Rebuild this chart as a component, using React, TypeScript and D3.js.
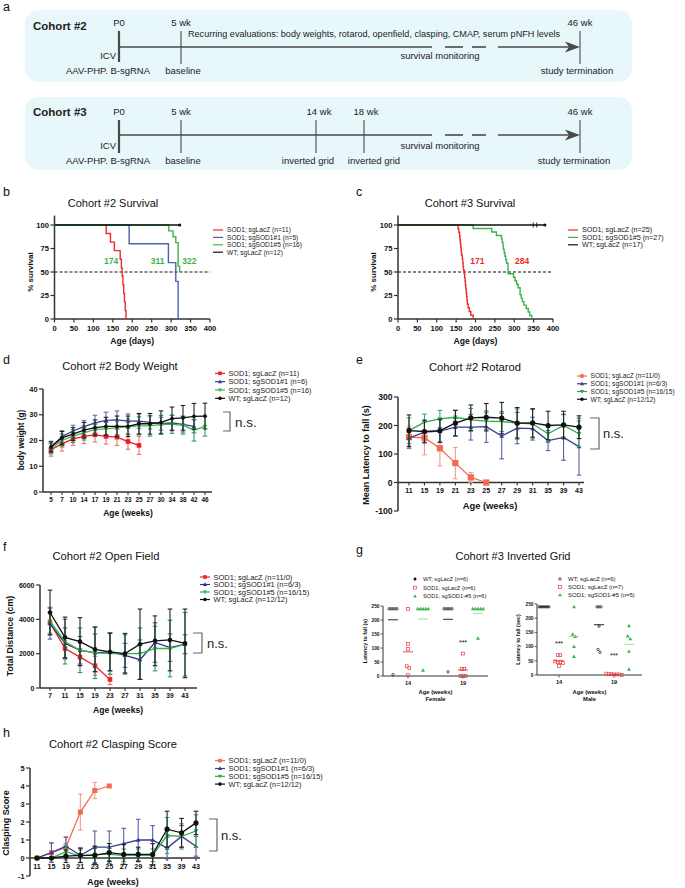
import React from "react";
import * as d3 from "d3";

const FONT = "'Liberation Sans', Arial, Helvetica, sans-serif";

/* ---------------- a: study timelines ---------------- */
const tlWeeks2 = [0, 5, 46];
const tlLabels2 = ["P0", "5 wk", "46 wk"];
const tlWeeks3 = [0, 5, 14, 18, 46];
const tlLabels3 = ["P0", "5 wk", "14 wk", "18 wk", "46 wk"];
const tlRecurring =
  "Recurring evaluations: body weights, rotarod, openfield, clasping, CMAP, serum pNFH levels";

/* ---------------- b: Cohort #2 survival ---------------- */
const survBNames = ["SOD1; sgLacZ (n=11)", "SOD1; sgSOD1#1 (n=5)", "SOD1; sgSOD1#5 (n=16)", "WT; sgLacZ (n=12)"];
const survBRedDays = [0, 133, 144, 154, 169, 172, 174, 176, 178, 180, 182, 184];
const survBRedPct = [100, 90.9, 81.8, 72.7, 63.6, 54.5, 45.5, 36.4, 27.3, 18.2, 9.1, 0];
const survBBlueDays = [0, 192, 293, 312, 318];
const survBBluePct = [100, 80, 60, 40, 0];
const survBGreenDays = [0, 294, 305, 312, 318, 322];
const survBGreenPct = [100, 93.8, 87.5, 81.3, 56.3, 50];
const survBBlackDays = [0, 322];
const survBBlackPct = [100, 100];
const survBMedians = [174, 311, 322];

/* ---------------- c: Cohort #3 survival ---------------- */
const survCNames = ["SOD1; sgLacZ (n=25)", "SOD1; sgSOD1#5 (n=27)", "WT; sgLacZ (n=17)"];
const survCRedDays = [0, 155, 157, 159, 160, 161, 162, 163, 164, 166, 167, 168, 169, 171, 172, 173, 174, 175, 176, 177, 178, 179, 181, 184, 188, 194];
const survCRedPct = [100, 96, 92, 88, 84, 80, 76, 72, 68, 64, 60, 56, 52, 48, 44, 40, 36, 32, 28, 24, 20, 16, 12, 8, 4, 0];
const survCGreenDays = [0, 194, 242, 254, 267, 269, 271, 272, 274, 276, 278, 280, 284, 298, 302, 306, 310, 315, 318, 321, 325, 331, 336, 340, 345];
const survCGreenPct = [100, 96.3, 92.6, 88.9, 85.2, 81.5, 77.8, 74.1, 70.4, 66.7, 63, 59.3, 48.1, 44.4, 40.7, 37, 33.3, 25.9, 22.2, 18.5, 14.8, 11.1, 7.4, 3.7, 0];
const survCBlackDays = [0, 379];
const survCBlackPct = [100, 100];
const survCCensor = [349, 358];
const survCMedians = [171, 284];

/* ---------------- d: body weight ---------------- */
const bwWeeks = ["5", "7", "10", "14", "17", "19", "21", "23", "25", "27", "30", "34", "38", "42", "46"];
const bwNames = ["SOD1; sgLacZ (n=11)", "SOD1; sgSOD1#1 (n=6)", "SOD1; sgSOD1#5 (n=16)", "WT; sgLacZ (n=12)"];
const bwRedMean = [16.4, 18.7, 20.6, 21.6, 22.2, 21.6, 21.3, 19.6, 18.1];
const bwRedErr = [2.5, 2.8, 2.5, 2.8, 2.8, 3.0, 3.2, 3.0, 3.5];
const bwBlueMean = [17.5, 21.5, 23.7, 25.4, 26.8, 27.8, 28.0, 27.5, 27.5, 27.0, 26.5, 26.8, 26.3, 25.5];
const bwBlueErr = [2.2, 2.3, 2.2, 2.3, 3.0, 3.2, 3.5, 2.8, 2.8, 2.5, 2.5, 3.0, 3.0, 2.5];
const bwGreenMean = [16.8, 20.0, 21.7, 23.0, 24.3, 24.5, 25.0, 25.3, 25.7, 25.7, 26.3, 26.3, 26.0, 24.0, 25.5];
const bwGreenErr = [2.0, 2.5, 2.5, 2.8, 2.5, 2.5, 2.8, 3.0, 3.5, 4.0, 3.5, 3.5, 3.5, 4.2, 3.8];
const bwBlackMean = [17.5, 21.0, 22.5, 24.0, 25.0, 25.5, 25.5, 25.5, 26.5, 26.5, 27.0, 28.5, 28.8, 29.4, 29.5];
const bwBlackErr = [2.0, 2.5, 2.5, 3.0, 3.0, 3.5, 4.0, 4.0, 4.0, 4.0, 4.5, 4.5, 4.8, 5.0, 5.0];
const bwTicks = [0, 10, 20, 30, 40];

/* ---------------- e: rotarod ---------------- */
const rrWeeks = ["11", "15", "19", "21", "23", "25", "27", "29", "31", "35", "39", "43"];
const rrNames = ["SOD1; sgLacZ (n=11/0)", "SOD1; sgSOD1#1 (n=6/3)", "SOD1; sgSOD1#5 (n=16/15)", "WT; sgLacZ (n=12/12)"];
const rrRedMean = [159, 157, 120, 68, 18, 0];
const rrRedErr = [40, 60, 62, 55, 17, 0];
const rrBlueMean = [156, 177, 180, 194, 194, 196, 163, 191, 189, 147, 158, 126];
const rrBlueErr = [35, 35, 40, 30, 45, 55, 80, 55, 40, 35, 80, 100];
const rrGreenMean = [182, 212, 223, 229, 220, 215, 214, 208, 206, 171, 200, 171];
const rrGreenErr = [45, 28, 30, 25, 40, 30, 35, 50, 50, 30, 40, 45];
const rrBlackMean = [182, 179, 182, 208, 227, 229, 226, 208, 209, 200, 202, 194];
const rrBlackErr = [55, 40, 40, 45, 45, 48, 55, 55, 50, 50, 48, 40];
const rrTicks = [-100, 0, 100, 200, 300];

/* ---------------- f: open field ---------------- */
const ofWeeks = ["7", "11", "15", "19", "23", "27", "31", "35", "39", "43"];
const ofNames = ["SOD1; sgLacZ (n=11/0)", "SOD1; sgSOD1#1 (n=6/3)", "SOD1; sgSOD1#5 (n=16/15)", "WT; sgLacZ (n=12/12)"];
const ofRedMean = [3800, 2300, 1800, 1300, 500];
const ofRedErr = [600, 600, 500, 550, 300];
const ofBlueMean = [3750, 2600, 2200, 2050, 2100, 1900, 1650, 2650, 2350, 2550];
const ofBlueErr = [900, 900, 800, 1100, 1100, 700, 1150, 1150, 800, 550];
const ofGreenMean = [3900, 2700, 2200, 2050, 2000, 2000, 2000, 2300, 2300, 2550];
const ofGreenErr = [800, 1300, 1300, 1500, 1200, 1100, 1500, 1300, 1650, 1850];
const ofBlackMean = [4400, 2950, 2700, 2250, 2100, 2000, 2550, 2750, 2800, 2600];
const ofBlackErr = [1300, 1180, 1400, 1300, 1100, 1180, 2050, 1450, 1800, 2000];
const ofTicks = [0, 2000, 4000, 6000];

/* ---------------- g: inverted grid ---------------- */
const igWeeks = ["14", "19"];
const igGroups = ["WT", "SOD1", "SOD1#5"];
const igFemaleNames = ["WT; sgLacZ (n=6)", "SOD1; sgLacZ (n=6)", "SOD1; sgSOD1-#5 (n=6)"];
const igMaleNames = ["WT; sgLacZ (n=6)", "SOD1; sgLacZ (n=7)", "SOD1; sgSOD1-#5 (n=5)"];
const igFemaleWT = [[240, 240, 240, 240, 240, 5], [240, 240, 240, 240, 240, 15]];
const igFemaleSOD = [[240, 115, 97, 35, 28, 3], [80, 25, 25, 0, 0, 0]];
const igFemaleSOD5 = [[240, 240, 240, 240, 240, 20], [240, 240, 240, 240, 240, 135]];
const igMaleWT = [[240, 240, 240, 240, 240, 240], [240, 240, 240, 172, 90, 80]];
const igMaleSOD = [[70, 70, 48, 45, 45, 42, 32], [5, 3, 3, 2, 2, 2, 0]];
const igMaleSOD5 = [[240, 143, 135, 100, 65], [173, 137, 127, 83, 20]];
const igFemaleStars = [null, 120];
const igMaleStars = [110, 70];
const igTicks = [0, 50, 100, 150, 200, 250];

/* ---------------- h: clasping ---------------- */
const clWeeks = ["11", "15", "19", "21", "23", "25", "27", "29", "31", "35", "39", "43"];
const clNames = ["SOD1; sgLacZ (n=11/0)", "SOD1; sgSOD1#1 (n=6/3)", "SOD1; sgSOD1#5 (n=16/15)", "WT; sgLacZ (n=12/12)"];
const clRedMean = [0, 0.3, 0.6, 2.55, 3.75, 4.0];
const clRedErr = [0, 0.5, 0.6, 1.0, 0.45, 0];
const clBlueMean = [0, 0.3, 0.65, 0.15, 0.6, 0.6, 0.8, 1.0, 1.0, 0.55, 1.2, 0.65];
const clBlueErr = [0, 0.55, 0.5, 0.4, 0.9, 0.9, 0.85, 1.15, 0.8, 0.6, 0.6, 0.55];
const clGreenMean = [0, 0, 0.35, 0.1, 0.2, 0.2, 0.15, 0.15, 0.15, 1.25, 1.2, 1.5];
const clGreenErr = [0, 0, 0.45, 0.35, 0.45, 0.35, 0.35, 0.35, 0.35, 1.0, 0.7, 0.9];
const clBlackMean = [0, 0, 0.1, 0.15, 0.15, 0.3, 0.2, 0.2, 0.2, 1.6, 1.4, 1.95];
const clBlackErr = [0, 0, 0.35, 0.4, 0.5, 0.5, 0.55, 0.4, 0.6, 1.0, 0.8, 0.65];
const clTicks = [-1, 0, 1, 2, 3, 4, 5];

/* ================= helpers ================= */
function Marker({ type, x, y, s, fill, stroke, sw = 0.8 }: any) {
  if (type === "square")
    return <rect x={x - s / 2} y={y - s / 2} width={s} height={s} fill={fill} stroke={stroke} strokeWidth={sw} />;
  if (type === "tri")
    return (
      <path d={`M${x},${y - s * 0.6}L${x + s * 0.58},${y + s * 0.42}L${x - s * 0.58},${y + s * 0.42}Z`} fill={fill} stroke={stroke} strokeWidth={sw} />
    );
  if (type === "tridown")
    return (
      <path d={`M${x},${y + s * 0.6}L${x + s * 0.58},${y - s * 0.42}L${x - s * 0.58},${y - s * 0.42}Z`} fill={fill} stroke={stroke} strokeWidth={sw} />
    );
  return <circle cx={x} cy={y} r={s / 2} fill={fill} stroke={stroke} strokeWidth={sw} />;
}

function Letter({ x, y, t }: any) {
  return (
    <text x={x} y={y} fontSize={12.5} fill="#111">
      {t}
    </text>
  );
}

function NS({ x, y1, y2, arm, tx, ty, fs = 13 }: any) {
  return (
    <g>
      <path d={`M${x - arm},${y1}H${x}V${y2}H${x - arm}`} fill="none" stroke="#666" strokeWidth={1.2} />
      <text x={tx} y={ty} fontSize={fs} fill="#222">
        n.s.
      </text>
    </g>
  );
}

/* ================= panel a ================= */
function PanelA() {
  const tl = d3.scaleLinear().domain([0, 5, 14, 18, 46]).range([119, 181, 316, 364, 580]);
  const stroke = "#4a4a4a";
  const arrow = (hy: number) => {
    const x0 = tl(0);
    const xe = tl(46);
    return (
      <g>
        <line x1={x0} x2={432} y1={hy} y2={hy} stroke={stroke} strokeWidth={1.6} />
        <line x1={445} x2={463} y1={hy} y2={hy} stroke={stroke} strokeWidth={1.6} />
        <line x1={472} x2={486} y1={hy} y2={hy} stroke={stroke} strokeWidth={1.6} />
        <line x1={498} x2={xe - 10} y1={hy} y2={hy} stroke={stroke} strokeWidth={1.6} />
        <path d={`M${xe},${hy}L${xe - 15},${hy - 5.5}L${xe - 11},${hy}L${xe - 15},${hy + 5.5}Z`} fill={stroke} />
      </g>
    );
  };
  const fs = 9.5;
  return (
    <g fill="#222">
      <Letter x={3} y={11} t="a" />
      <rect x={25} y={10} width={607} height={72} rx={14} fill="#E8F7FA" />
      <rect x={25} y={97} width={607} height={73} rx={14} fill="#E8F7FA" />
      {/* cohort 2 */}
      <text x={33} y={30} fontSize={11.5} fontWeight="bold">
        Cohort #2
      </text>
      {tlWeeks2.map((w, i) => (
        <g key={"c2" + w}>
          <text x={tl(w)} y={26} fontSize={fs} textAnchor="middle">
            {tlLabels2[i]}
          </text>
          <line x1={tl(w)} x2={tl(w)} y1={31} y2={i === 0 ? 62 : 64} stroke={stroke} strokeWidth={i === 0 ? 2.2 : 1.1} />
        </g>
      ))}
      {arrow(47)}
      <text x={188} y={37} fontSize={8.5} textLength={372} lengthAdjust="spacingAndGlyphs">
        {tlRecurring}
      </text>
      <text x={tl(0) - 3} y={59} fontSize={fs} textAnchor="end">
        ICV
      </text>
      <text x={440} y={58.5} fontSize={fs} textAnchor="middle">
        survival monitoring
      </text>
      <text x={tl(0) - 11} y={73.5} fontSize={fs} textAnchor="middle">
        AAV-PHP. B-sgRNA
      </text>
      <text x={tl(5) + 2} y={73.5} fontSize={fs} textAnchor="middle">
        baseline
      </text>
      <text x={tl(46) - 3} y={73.5} fontSize={fs} textAnchor="middle">
        study termination
      </text>
      {/* cohort 3 */}
      <text x={33} y={116} fontSize={11.5} fontWeight="bold">
        Cohort #3
      </text>
      {tlWeeks3.map((w, i) => (
        <g key={"c3" + w}>
          <text x={tl(w) + (i === 2 ? 3 : i === 3 ? 2 : 0)} y={115} fontSize={fs} textAnchor="middle">
            {tlLabels3[i]}
          </text>
          <line x1={tl(w)} x2={tl(w)} y1={120} y2={153} stroke={stroke} strokeWidth={i === 0 ? 2.2 : 1.1} />
        </g>
      ))}
      {arrow(135)}
      <text x={tl(0) - 3} y={149} fontSize={fs} textAnchor="end">
        ICV
      </text>
      <text x={440} y={149} fontSize={fs} textAnchor="middle">
        survival monitoring
      </text>
      <text x={tl(0) - 11} y={164} fontSize={fs} textAnchor="middle">
        AAV-PHP. B-sgRNA
      </text>
      <text x={tl(5) + 2} y={164} fontSize={fs} textAnchor="middle">
        baseline
      </text>
      <text x={tl(14) - 8} y={164} fontSize={fs} textAnchor="middle">
        inverted grid
      </text>
      <text x={tl(18) + 10} y={164} fontSize={fs} textAnchor="middle">
        inverted grid
      </text>
      <text x={tl(46) - 6} y={164} fontSize={fs} textAnchor="middle">
        study termination
      </text>
    </g>
  );
}

/* ================= survival panels ================= */
function Survival({ x0, x1, curves, names, colors, legendX, legendFs, medianLabels, censor, endDot, ylabelX, title, titleX, letterX }: any) {
  const x = d3.scaleLinear().domain([0, 400]).range([x0, x1]);
  const y = d3.scaleLinear().domain([0, 100]).range([319, 225]);
  const line = d3
    .line<number[]>()
    .x((d) => x(d[0]))
    .y((d) => y(d[1]))
    .curve(d3.curveStepAfter);
  const xt = d3.range(0, 401, 50);
  const yt = [0, 25, 50, 75, 100];
  return (
    <g fill="#111">
      <Letter x={letterX} y={196} t={title.startsWith("Cohort #2") ? "b" : "c"} />
      <text x={titleX} y={207} fontSize={11} textAnchor="middle">
        {title}
      </text>
      {/* axes */}
      <line x1={x0} x2={x0} y1={y(0)} y2={y(110)} stroke="#333" strokeWidth={1.5} />
      {yt.map((t) => (
        <g key={t}>
          <line x1={x0 - 4} x2={x0} y1={y(t)} y2={y(t)} stroke="#333" strokeWidth={1.2} />
          <text x={x0 - 5.5} y={y(t) + 2.7} fontSize={7.6} fontWeight="bold" textAnchor="end">
            {t}
          </text>
        </g>
      ))}
      <line x1={x0} x2={x1} y1={y(0)} y2={y(0)} stroke="#333" strokeWidth={1.5} />
      {xt.map((t) => (
        <g key={t}>
          <line x1={x(t)} x2={x(t)} y1={y(0)} y2={y(0) + 3.5} stroke="#333" strokeWidth={1.2} />
          <text x={x(t)} y={y(0) + 11.5} fontSize={7.6} fontWeight="bold" textAnchor="middle">
            {t}
          </text>
        </g>
      ))}
      <text x={(x0 + x1) / 2} y={344} fontSize={8.6} fontWeight="bold" textAnchor="middle">
        Age (days)
      </text>
      <text transform={`translate(${ylabelX},272) rotate(-90)`} fontSize={8} fontWeight="bold" textAnchor="middle">
        % survival
      </text>
      {/* dashed 50% */}
      <line x1={x0} x2={x1} y1={y(50)} y2={y(50)} stroke="#111" strokeWidth={1.1} strokeDasharray="3,2" />
      {curves.map((c: any, i: number) => (
        <path key={i} d={line(c.days.map((d: number, j: number) => [d, c.pct[j]])) || ""} fill="none" stroke={c.color} strokeWidth={1.4} />
      ))}
      {censor &&
        censor.days.map((d: number) => (
          <line key={d} x1={x(d)} x2={x(d)} y1={y(100) - 2.5} y2={y(100) + 2.5} stroke="#111" strokeWidth={0.9} />
        ))}
      {endDot && <circle cx={x(endDot[0])} cy={y(endDot[1])} r={1.6} fill="#111" />}
      {medianLabels.map((m: any, i: number) => (
        <text key={i} x={x(m.day) + m.dx} y={y(59)} fontSize={8.5} fontWeight="bold" fill={m.color} textAnchor={m.anchor}>
          {m.day}
        </text>
      ))}
      {/* legend */}
      {names.map((n: string, i: number) => (
        <g key={n}>
          <line x1={legendX} x2={legendX + 10} y1={230 + i * 7.4} y2={230 + i * 7.4} stroke={colors[i]} strokeWidth={1.2} />
          <text x={legendX + 14} y={230 + i * 7.4 + 2.4} fontSize={legendFs} fill="#222">
            {n}
          </text>
        </g>
      ))}
    </g>
  );
}

/* ================= line chart with error bars ================= */
function LineChart(p: any) {
  const x = d3.scalePoint().domain(p.cats).range(p.xr);
  const y = d3.scaleLinear().domain(p.yd).range(p.yr);
  const ax0 = p.ax[0];
  const ax1 = p.ax[1];
  const xAxisY = y(p.xAxisAt);
  const line = d3
    .line<any>()
    .x((d) => d.x)
    .y((d) => d.y);
  return (
    <g fill="#111">
      <text x={p.titleX} y={p.titleY} fontSize={11.2} textAnchor="middle">
        {p.title}
      </text>
      <line x1={ax0} x2={ax0} y1={y(p.yd[0])} y2={y(p.yd[1])} stroke="#333" strokeWidth={1.5} />
      {p.yTicks.map((t: number) => (
        <g key={t}>
          <line x1={ax0 - 4} x2={ax0} y1={y(t)} y2={y(t)} stroke="#333" strokeWidth={1.2} />
          <text x={ax0 - 5.5} y={y(t) + p.yTickFs * 0.36} fontSize={p.yTickFs} fontWeight="bold" textAnchor="end">
            {t}
          </text>
        </g>
      ))}
      <line x1={ax0} x2={ax1} y1={xAxisY} y2={xAxisY} stroke="#333" strokeWidth={1.5} />
      {p.cats.map((c: string) => (
        <g key={c}>
          <line x1={x(c)} x2={x(c)} y1={xAxisY} y2={xAxisY + 3} stroke="#333" strokeWidth={1.1} />
          <text x={x(c)} y={xAxisY + p.xTickDy} fontSize={p.xTickFs} fontWeight="bold" textAnchor="middle">
            {c}
          </text>
        </g>
      ))}
      <text x={p.xLabelX} y={p.xLabelY} fontSize={p.xLabelFs} fontWeight="bold" textAnchor="middle">
        Age (weeks)
      </text>
      <text transform={`translate(${p.yLabelX},${p.yLabelY}) rotate(-90)`} fontSize={p.yLabelFs} fontWeight="bold" textAnchor="middle">
        {p.yLabel}
      </text>
      {p.series.map((s: any, si: number) => {
        const pts = s.mean.map((m: number, i: number) => ({
          x: x(p.cats[i]) as number,
          y: y(m),
          lo: y(m - s.err[i]),
          hi: y(m + s.err[i]),
        }));
        return (
          <g key={si}>
            {pts.map((q: any, i: number) => (
              <g key={i} stroke={s.errColor} strokeWidth={1.1}>
                <line x1={q.x} x2={q.x} y1={q.lo} y2={q.hi} />
                <line x1={q.x - 2.3} x2={q.x + 2.3} y1={q.lo} y2={q.lo} />
                <line x1={q.x - 2.3} x2={q.x + 2.3} y1={q.hi} y2={q.hi} />
              </g>
            ))}
            <path d={line(pts) || ""} fill="none" stroke={s.color} strokeWidth={1.3} />
            {pts.map((q: any, i: number) => (
              <Marker key={i} type={s.marker} x={q.x} y={q.y} s={s.ms} fill={s.color} stroke="none" />
            ))}
          </g>
        );
      })}
      {p.series.map((s: any, i: number) => {
        const ly = p.legendY + i * p.legendDy;
        return (
          <g key={"lg" + i}>
            <line x1={p.legendX} x2={p.legendX + 10} y1={ly} y2={ly} stroke={s.color} strokeWidth={1.2} />
            <Marker type={s.marker} x={p.legendX + 5} y={ly} s={Math.min(s.ms, 3.6)} fill={s.color} stroke="none" />
            <text x={p.legendX + 13.5} y={ly + p.legendFs * 0.35} fontSize={p.legendFs} fill="#222">
              {p.names[i]}
            </text>
          </g>
        );
      })}
    </g>
  );
}

/* ================= inverted grid ================= */
function spread(vals: number[], y: any, sp: number, tol: number) {
  const sorted = [...vals].sort((a, b) => b - a);
  const clusters: number[][] = [];
  sorted.forEach((v) => {
    const last = clusters[clusters.length - 1];
    if (last && Math.abs(y(last[0]) - y(v)) < tol) last.push(v);
    else clusters.push([v]);
  });
  const out: any[] = [];
  clusters.forEach((c) => c.forEach((v, i) => out.push({ v, dx: (i - (c.length - 1) / 2) * sp })));
  return out;
}

function GridPlot(p: any) {
  const y = d3.scaleLinear().domain([0, 250]).range([p.yb, p.yt]);
  const xw = d3.scalePoint().domain(igWeeks).range(p.weekX);
  const gOff = d3.scalePoint().domain(igGroups).range([-15, 15]);
  const red = "#E8393A";
  const green = "#3CB54A";
  const groups = [
    { key: "WT", data: p.wt, type: "circle", color: "#111", meanColor: "#111" },
    { key: "SOD1", data: p.sod, type: "square", color: red, meanColor: red },
    { key: "SOD1#5", data: p.sod5, type: "tri", color: green, meanColor: "#8EDC98" },
  ];
  return (
    <g fill="#111">
      <line x1={p.ax0} x2={p.ax0} y1={y(0)} y2={y(250)} stroke="#333" strokeWidth={1} />
      {igTicks.map((t) => (
        <g key={t}>
          <line x1={p.ax0 - 2.5} x2={p.ax0} y1={y(t)} y2={y(t)} stroke="#333" strokeWidth={0.8} />
          <text x={p.ax0 - 3.5} y={y(t) + 1.7} fontSize={4.8} textAnchor="end" fontWeight="bold">
            {t}
          </text>
        </g>
      ))}
      <line x1={p.ax0} x2={p.ax1} y1={y(0)} y2={y(0)} stroke="#333" strokeWidth={1} />
      {igWeeks.map((w) => (
        <g key={w}>
          <line x1={xw(w)} x2={xw(w)} y1={y(0)} y2={y(0) + 2.5} stroke="#333" strokeWidth={0.8} />
          <text x={xw(w)} y={y(0) + 9} fontSize={5.6} fontWeight="bold" textAnchor="middle">
            {w}
          </text>
        </g>
      ))}
      <text x={(p.ax0 + p.ax1) / 2} y={694} fontSize={5.8} fontWeight="bold" textAnchor="middle">
        Age (weeks)
      </text>
      <text x={(p.ax0 + p.ax1) / 2} y={700.5} fontSize={5.8} fontWeight="bold" textAnchor="middle">
        {p.sex}
      </text>
      <text transform={`translate(${p.ylabelX},${(y(0) + y(250)) / 2}) rotate(-90)`} fontSize={5.4} fontWeight="bold" textAnchor="middle">
        {p.ylabel}
      </text>
      {igWeeks.map((w, wi) =>
        groups.map((g) => {
          const cx = (xw(w) as number) + (gOff(g.key) as number);
          const vals = g.data[wi];
          const m = d3.mean(vals) as number;
          const pts = spread(vals, y, g.type === "circle" ? 2 : 2.6, 4);
          return (
            <g key={w + g.key}>
              {pts.map((q: any, i: number) => (
                <Marker
                  key={i}
                  type={g.type}
                  x={cx + q.dx}
                  y={y(q.v)}
                  s={g.type === "circle" ? 2.4 : g.type === "square" ? 2.8 : 3.4}
                  fill={g.type === "tri" ? g.color : "none"}
                  stroke={g.type === "tri" ? "none" : g.color}
                  sw={0.7}
                />
              ))}
              <line x1={cx - 5} x2={cx + 5} y1={y(m)} y2={y(m)} stroke={g.meanColor} strokeWidth={0.9} />
            </g>
          );
        })
      )}
      {igWeeks.map((w, wi) =>
        p.stars[wi] != null ? (
          <text key={"s" + w} x={(xw(w) as number) + (gOff("SOD1") as number)} y={y(p.stars[wi]) + 2.5} fontSize={7} textAnchor="middle">
            ***
          </text>
        ) : null
      )}
      {/* legend */}
      {p.names.map((n: string, i: number) => {
        const g = groups[i];
        const ly = p.legendY + i * p.legendDy;
        return (
          <g key={n}>
            <Marker
              type={g.type}
              x={p.legendX}
              y={ly}
              s={g.type === "circle" ? 2.4 : g.type === "square" ? 2.8 : 3.2}
              fill={g.type === "tri" ? g.color : g.type === "circle" && p.wtFilled ? "#111" : "none"}
              stroke={g.type === "tri" ? "none" : g.color}
              sw={0.7}
            />
            <text x={p.legendX + 8} y={ly + 2} fontSize={p.legendFs} fill="#222">
              {n}
            </text>
          </g>
        );
      })}
    </g>
  );
}

/* ================= App ================= */
export default function App() {
  const RED = "#EC1C24";
  const SALMON = "#F26A4F";
  const BLUE = "#393B98";
  const GREEN = "#39B54A";
  const BLACK = "#111111";

  const bwSeries = [
    { mean: bwRedMean, err: bwRedErr, color: RED, errColor: "#F37074", marker: "square", ms: 4.6 },
    { mean: bwBlueMean, err: bwBlueErr, color: BLUE, errColor: "#6569B5", marker: "tri", ms: 4 },
    { mean: bwGreenMean, err: bwGreenErr, color: GREEN, errColor: "#2E9A6A", marker: "tridown", ms: 4 },
    { mean: bwBlackMean, err: bwBlackErr, color: BLACK, errColor: "#222", marker: "circle", ms: 3.8 },
  ];
  const rrSeries = [
    { mean: rrRedMean, err: rrRedErr, color: SALMON, errColor: "#F59B85", marker: "square", ms: 6.2 },
    { mean: rrBlueMean, err: rrBlueErr, color: BLUE, errColor: "#5A5EAE", marker: "tri", ms: 4 },
    { mean: rrGreenMean, err: rrGreenErr, color: "#2FA84F", errColor: "#3AAE5C", marker: "tridown", ms: 4 },
    { mean: rrBlackMean, err: rrBlackErr, color: BLACK, errColor: "#222", marker: "circle", ms: 5.2 },
  ];
  const ofSeries = [
    { mean: ofRedMean, err: ofRedErr, color: "#E8262A", errColor: "#EE6A6A", marker: "square", ms: 4.6 },
    { mean: ofBlueMean, err: ofBlueErr, color: "#2E3192", errColor: "#5155AA", marker: "tri", ms: 4 },
    { mean: ofGreenMean, err: ofGreenErr, color: GREEN, errColor: "#2B9A5C", marker: "tridown", ms: 4 },
    { mean: ofBlackMean, err: ofBlackErr, color: BLACK, errColor: "#222", marker: "circle", ms: 4.6 },
  ];
  const clSeries = [
    { mean: clRedMean, err: clRedErr, color: SALMON, errColor: "#F59B85", marker: "square", ms: 5 },
    { mean: clBlueMean, err: clBlueErr, color: BLUE, errColor: "#5A5EAE", marker: "tri", ms: 4 },
    { mean: clGreenMean, err: clGreenErr, color: "#2FA84F", errColor: "#3AAE5C", marker: "tridown", ms: 4 },
    { mean: clBlackMean, err: clBlackErr, color: BLACK, errColor: "#222", marker: "circle", ms: 5.2 },
  ];

  const survRed = "#EE2A2A";
  const survBlue = "#4F5DB5";
  const survGreen = "#3CB44B";

  return (
    <svg
      xmlns="http://www.w3.org/2000/svg"
      width={685}
      height={888}
      viewBox="0 0 685 888"
      style={{ position: "absolute", left: 0, top: 0, display: "block" }}
      fontFamily={FONT}
    >
      <rect x={0} y={0} width={685} height={888} fill="#ffffff" />
      <PanelA />

      <Survival
        x0={54.5}
        x1={210}
        title="Cohort #2 Survival"
        titleX={113}
        letterX={3}
        ylabelX={33}
        curves={[
          { days: survBRedDays, pct: survBRedPct, color: survRed },
          { days: survBBlueDays, pct: survBBluePct, color: survBlue },
          { days: survBGreenDays, pct: survBGreenPct, color: survGreen },
          { days: survBBlackDays, pct: survBBlackPct, color: "#111" },
        ]}
        names={survBNames}
        colors={[survRed, survBlue, survGreen, "#111"]}
        legendX={213}
        legendFs={6.6}
        medianLabels={[
          { day: survBMedians[0], dx: -4, anchor: "end", color: survGreen },
          { day: survBMedians[1], dx: -11, anchor: "end", color: survGreen },
          { day: survBMedians[2], dx: 2.5, anchor: "start", color: survGreen },
        ]}
        endDot={[322, 100]}
      />
      <Survival
        x0={398}
        x1={553}
        title="Cohort #3 Survival"
        titleX={470}
        letterX={356}
        ylabelX={376}
        curves={[
          { days: survCRedDays, pct: survCRedPct, color: survRed },
          { days: survCGreenDays, pct: survCGreenPct, color: survGreen },
          { days: survCBlackDays, pct: survCBlackPct, color: "#111" },
        ]}
        names={survCNames}
        colors={[survRed, survGreen, "#111"]}
        legendX={568}
        legendFs={7.2}
        medianLabels={[
          { day: survCMedians[0], dx: 6, anchor: "start", color: survRed },
          { day: survCMedians[1], dx: 7, anchor: "start", color: survRed },
        ]}
        censor={{ days: survCCensor }}
        endDot={[379, 100]}
      />

      {/* d */}
      <Letter x={3} y={364} t="d" />
      <LineChart
        title="Cohort #2 Body Weight"
        titleX={120}
        titleY={370}
        cats={bwWeeks}
        xr={[51, 205]}
        ax={[43, 212]}
        yd={[0, 40]}
        yr={[492, 389]}
        xAxisAt={0}
        yTicks={bwTicks}
        yTickFs={7.4}
        xTickFs={6.4}
        xTickDy={10}
        xLabelX={128}
        xLabelY={516}
        xLabelFs={8.5}
        yLabel="body weight (g)"
        yLabelX={24}
        yLabelY={440}
        yLabelFs={8.2}
        series={bwSeries}
        names={bwNames}
        legendX={215}
        legendY={373.3}
        legendDy={8.35}
        legendFs={7.3}
      />
      <NS x={230} y1={412} y2={431} arm={7} tx={235} ty={427} fs={13.5} />

      {/* e */}
      <Letter x={356} y={364} t="e" />
      <LineChart
        title="Cohort #2 Rotarod"
        titleX={475}
        titleY={371}
        cats={rrWeeks}
        xr={[409, 579]}
        ax={[398, 584]}
        yd={[-100, 300]}
        yr={[511, 397]}
        xAxisAt={0}
        yTicks={rrTicks}
        yTickFs={8.6}
        xTickFs={7}
        xTickDy={10.5}
        xLabelX={490}
        xLabelY={509}
        xLabelFs={9.4}
        yLabel="Mean Latency to fall (s)"
        yLabelX={369}
        yLabelY={455}
        yLabelFs={9}
        series={rrSeries}
        names={rrNames}
        legendX={577}
        legendY={376}
        legendDy={7.75}
        legendFs={6.6}
      />
      <NS x={599} y1={418} y2={449} arm={9} tx={603} ty={438} fs={13} />

      {/* f */}
      <Letter x={3} y={551} t="f" />
      <LineChart
        title="Cohort #2 Open Field"
        titleX={106}
        titleY={560}
        cats={ofWeeks}
        xr={[50, 185]}
        ax={[40, 197]}
        yd={[0, 6000]}
        yr={[688, 585]}
        xAxisAt={0}
        yTicks={ofTicks}
        yTickFs={7}
        xTickFs={6.6}
        xTickDy={10}
        xLabelX={118}
        xLabelY={713}
        xLabelFs={8.6}
        yLabel="Total Distance (cm)"
        yLabelX={13}
        yLabelY={636}
        yLabelFs={8.8}
        series={ofSeries}
        names={ofNames}
        legendX={200}
        legendY={577}
        legendDy={7.5}
        legendFs={7.5}
      />
      <NS x={202} y1={633} y2={653} arm={9} tx={207} ty={648} fs={13} />

      {/* g */}
      <Letter x={356} y={554} t="g" />
      <text x={513} y={560} fontSize={11} textAnchor="middle" fill="#111">
        Cohort #3 Inverted Grid
      </text>
      <GridPlot
        ax0={383}
        ax1={488}
        yb={676}
        yt={606}
        weekX={[408, 463]}
        wt={igFemaleWT}
        sod={igFemaleSOD}
        sod5={igFemaleSOD5}
        stars={igFemaleStars}
        names={igFemaleNames}
        legendX={415}
        legendY={579}
        legendDy={8.6}
        legendFs={5.7}
        wtFilled={true}
        sex="Female"
        ylabel="Latency to fall (s)"
        ylabelX={367}
      />
      <GridPlot
        ax0={537}
        ax1={642}
        yb={675}
        yt={604}
        weekX={[559, 614]}
        wt={igMaleWT}
        sod={igMaleSOD}
        sod5={igMaleSOD5}
        stars={igMaleStars}
        names={igMaleNames}
        legendX={560}
        legendY={579}
        legendDy={8}
        legendFs={6}
        wtFilled={false}
        sex="Male"
        ylabel="Latency to fall (sec)"
        ylabelX={520}
      />

      {/* h */}
      <Letter x={3} y={737} t="h" />
      <LineChart
        title="Cohort #2 Clasping Score"
        titleX={113}
        titleY={748}
        cats={clWeeks}
        xr={[37, 196]}
        ax={[30, 200]}
        yd={[-1, 5]}
        yr={[876, 768]}
        xAxisAt={0}
        yTicks={clTicks}
        yTickFs={7.4}
        xTickFs={7.2}
        xTickDy={11}
        xLabelX={113}
        xLabelY={885}
        xLabelFs={8.8}
        yLabel="Clasping Score"
        yLabelX={9}
        yLabelY={823}
        yLabelFs={9}
        series={clSeries}
        names={clNames}
        legendX={215}
        legendY={760.7}
        legendDy={7.8}
        legendFs={7.4}
      />
      <NS x={217} y1={819} y2={851} arm={8} tx={221} ty={840} fs={13} />
    </svg>
  );
}
